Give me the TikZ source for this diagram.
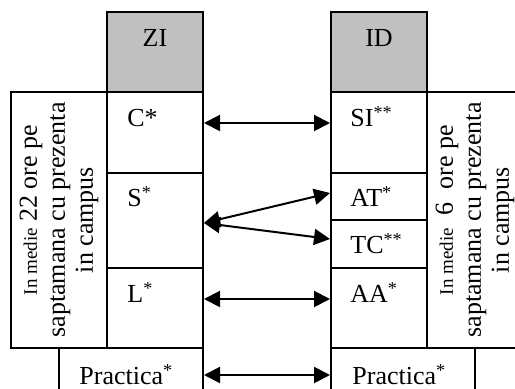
\documentclass[tikz,border=0pt]{standalone}
\usepackage{fontspec}
\setmainfont{Liberation Serif}
\usetikzlibrary{arrows.meta,calc}
\definecolor{headgray}{RGB}{192,192,192}
\tikzset{
  cellbox/.style={draw, line width=1pt, inner sep=0pt, anchor=north west},
  headbox/.style={cellbox, fill=headgray, minimum width=48pt, minimum height=40pt},
  celltext/.style={anchor=base west, inner sep=0pt, font=\fontsize{13}{14}\selectfont},
  headtext/.style={anchor=base, inner sep=0pt, font=\fontsize{13}{14}\selectfont},
  vtext/.style={rotate=90, align=center, inner sep=0pt, font=\fontsize{13}{14}\selectfont},
  linkarrow/.style={{Triangle[length=8pt,width=8pt]}-{Triangle[length=8pt,width=8pt]}, line width=1pt},
}
\newcommand{\smallmed}{{\fontsize{9.5}{14}\selectfont In medie}}
\begin{document}
\begin{tikzpicture}[x=0.5pt,y=-0.5pt]
\useasboundingbox (0,0) rectangle (515,389);

% ZI column
\node[headbox] (zi) at (106,11) {};
\node[headtext] (zit) at ($(zi.north)+(0,36)$) {ZI};
\node[cellbox, minimum width=48pt, minimum height=40.5pt] (c) at (106,91) {};
\node[cellbox, minimum width=48pt, minimum height=47.5pt] (s) at (106,172) {};
\node[cellbox, minimum width=48pt, minimum height=40pt] (l) at (106,267) {};
\node[cellbox, minimum width=48pt, minimum height=128pt] (lbox) at (10,91) {};
\node[cellbox, minimum width=72pt, minimum height=28pt] (pl) at (58,347) {};

\node[celltext] (ct) at ($(c.north west)+(21,36)$) {C*};
\node[celltext] (st) at ($(s.north west)+(21,35)$) {S\textsuperscript{*}};
\node[celltext] (lt) at ($(l.north west)+(21,36)$) {L\textsuperscript{*}};
\node[celltext] (plt) at ($(pl.north west)+(21,38)$) {Practica\textsuperscript{*}};
\node[vtext] (lboxt) at (lbox.center) {\hspace*{10pt}\smallmed\ 22 ore pe\\saptamana cu prezenta\\in campus};

% ID column
\node[headbox] (id) at (330,11) {};
\node[headtext] (idt) at ($(id.north)+(0,36)$) {ID};
\node[cellbox, minimum width=48pt, minimum height=40.5pt] (si) at (330,91) {};
\node[cellbox, minimum width=48pt, minimum height=23.5pt] (at) at (330,172) {};
\node[cellbox, minimum width=48pt, minimum height=24pt] (tc) at (330,219) {};
\node[cellbox, minimum width=48pt, minimum height=40pt] (aa) at (330,267) {};
\node[cellbox, minimum width=48pt, minimum height=128pt] (rbox) at (426,91) {};
\node[cellbox, minimum width=72pt, minimum height=28pt] (pr) at (330,347) {};

\node[celltext] (sit) at ($(si.north west)+(20,36)$) {SI\textsuperscript{**}};
\node[celltext] (att) at ($(at.north west)+(20,35)$) {AT\textsuperscript{*}};
\node[celltext] (tct) at ($(tc.north west)+(20,35)$) {TC\textsuperscript{**}};
\node[celltext] (aat) at ($(aa.north west)+(20,36)$) {AA\textsuperscript{*}};
\node[celltext] (prt) at ($(pr.north west)+(22,38)$) {Practica\textsuperscript{*}};
\node[vtext] (rboxt) at (rbox.center) {\hspace*{10pt}\smallmed\ \ 6\ \ ore pe\\saptamana cu prezenta\\in campus};

% links
\draw[linkarrow] ($(c.north east)+(0,32)$) -- ($(si.north west)+(0,32)$);
\draw[linkarrow] ($(s.north east)+(0,51)$) -- ($(at.north west)+(0,21)$);
\draw[linkarrow] ($(s.north east)+(0,51)$) -- ($(tc.north west)+(0,20)$);
\draw[linkarrow] ($(l.north east)+(0,32)$) -- ($(aa.north west)+(0,32)$);
\draw[linkarrow] ($(pl.north east)+(0,28)$) -- ($(pr.north west)+(0,28)$);
\end{tikzpicture}
\end{document}
